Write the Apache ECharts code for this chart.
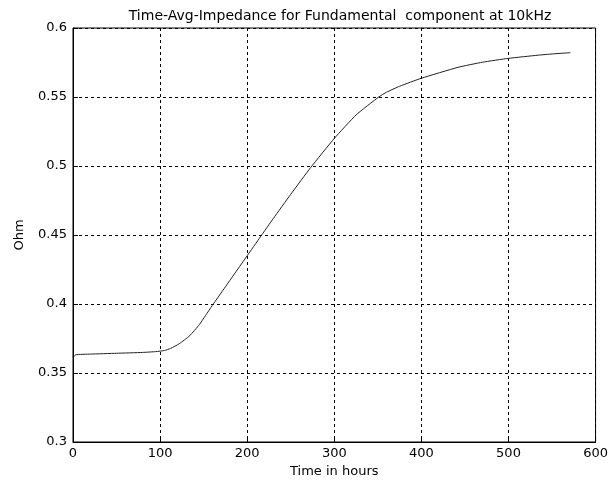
<!DOCTYPE html>
<html>
<head>
<meta charset="utf-8">
<script src="https://cdn.jsdelivr.net/npm/echarts@6/dist/echarts.min.js"></script>
<style>
  html, body { margin: 0; padding: 0; background: #fff; }
  #chart { width: 611px; height: 489px; }
</style>
</head>
<body>
<div id="chart"></div>
<script>
// Time in hours vs impedance (Ohm)
const hours = [0, 3, 20, 50, 80, 95, 105, 112, 122, 134, 145, 152, 160, 175, 200, 215, 230, 250, 273, 300, 325, 351, 360, 375, 400, 442, 470, 500, 534, 550, 571];
const ohm = [0.3610, 0.3632, 0.3637, 0.3643, 0.3649, 0.3655, 0.3663, 0.3678, 0.3712, 0.3770, 0.3850, 0.3915, 0.3990, 0.4125, 0.4350, 0.4485, 0.4620, 0.4795, 0.4990, 0.5200, 0.5370, 0.5500, 0.5535, 0.5578, 0.5636, 0.5715, 0.5752, 0.5780, 0.5803, 0.5812, 0.5821];

const FONT = 'DejaVu Sans, sans-serif';

const chart = echarts.init(document.getElementById('chart'));

const gridLine = { show: true, lineStyle: { color: '#000', type: [3, 3], width: 1 } };

chart.setOption({
  backgroundColor: '#fff',
  animation: false,
  title: {
    text: 'Time-Avg-Impedance for Fundamental  component at 10kHz',
    left: 335,
    textAlign: 'center',
    top: 4,
    textStyle: { fontFamily: FONT, fontSize: 14, fontWeight: 'normal', color: '#000' }
  },
  grid: { left: 73, right: 13, top: 28, bottom: 47, show: true, borderColor: '#000', borderWidth: 1 },
  xAxis: {
    type: 'value',
    min: 0,
    max: 600,
    interval: 100,
    name: 'Time in hours',
    nameLocation: 'middle',
    nameGap: 21,
    nameTextStyle: { fontFamily: FONT, fontSize: 13, color: '#000' },
    axisLine: { lineStyle: { color: '#000' } },
    axisTick: { inside: true, length: 5, lineStyle: { color: '#000' } },
    axisLabel: { fontFamily: FONT, fontSize: 13, color: '#000', margin: 5 },
    splitLine: gridLine
  },
  yAxis: {
    type: 'value',
    min: 0.3,
    max: 0.6,
    interval: 0.05,
    name: 'Ohm',
    nameLocation: 'middle',
    nameGap: 47,
    nameTextStyle: { fontFamily: FONT, fontSize: 13, color: '#000' },
    axisLine: { lineStyle: { color: '#000' } },
    axisTick: { inside: true, length: 5, lineStyle: { color: '#000' } },
    axisLabel: { fontFamily: FONT, fontSize: 13, color: '#000', margin: 6 },
    splitLine: gridLine
  },
  series: [{
    type: 'line',
    data: hours.map((h, i) => [h, ohm[i]]),
    smooth: 0.15,
    showSymbol: false,
    lineStyle: { color: '#222', width: 1 }
  }]
});
</script>
</body>
</html>
